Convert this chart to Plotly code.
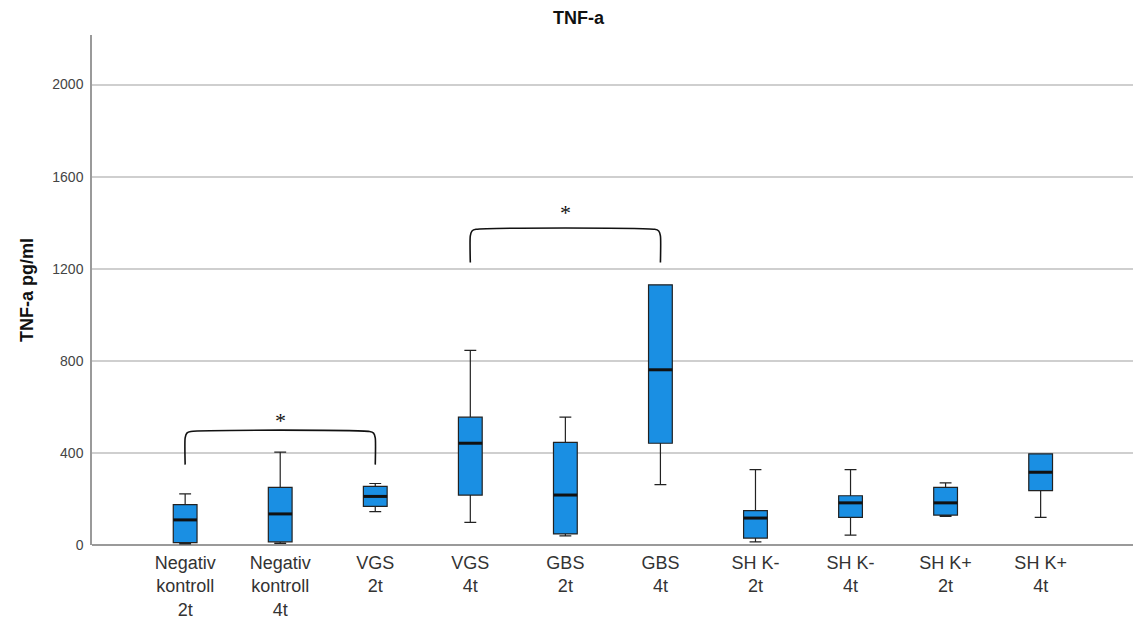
import plotly.graph_objects as go

categories = ["Negativ<br>kontroll<br>2t", "Negativ<br>kontroll<br>4t", "VGS<br>2t", "VGS<br>4t",
              "GBS<br>2t", "GBS<br>4t", "SH K-<br>2t", "SH K-<br>4t", "SH K+<br>2t", "SH K+<br>4t"]
lower_whisker = [5, 7, 145, 98, 40, 262, 14, 43, 124, 120]
q1_values = [10, 14, 168, 217, 48, 442, 30, 120, 130, 236]
median_values = [109, 135, 211, 442, 217, 761, 117, 183, 183, 316]
q3_values = [175, 250, 255, 555, 446, 1130, 149, 214, 250, 396]
upper_whisker = [222, 403, 267, 845, 555, 1130, 327, 327, 270, 396]

y_ticks = [0, 400, 800, 1200, 1600, 2000]

# significance brackets: (left group, right group, top level, leg end level)
brackets = [(0, 2, 493, 349), (3, 5, 1371, 1227)]
star_levels = [540, 1445]

xs = list(range(len(categories)))
box_w = 0.25

fig = go.Figure()
fig.add_trace(go.Box(
    x=xs, q1=q1_values, median=median_values, q3=q3_values,
    lowerfence=lower_whisker, upperfence=upper_whisker,
    width=box_w, whiskerwidth=0.5,
    fillcolor="#1a8fe3", line=dict(color="#222", width=1.2),
    boxpoints=False, showlegend=False, hoverinfo="skip",
))

# thicker median lines
mx, my = [], []
for i, m in enumerate(median_values):
    mx += [i - box_w / 2, i + box_w / 2, None]
    my += [m, m, None]
fig.add_trace(go.Scatter(x=mx, y=my, mode="lines", line=dict(color="#111", width=3),
                         showlegend=False, hoverinfo="skip"))

# brackets
for (a, b, top, end), s in zip(brackets, star_levels):
    r = 0.06
    dy = 28
    bx = [a, a, a + r * 0.3, a + r, b - r, b - r * 0.3, b, b]
    by = [end, top - dy, top - dy * 0.25, top, top, top - dy * 0.25, top - dy, end]
    fig.add_trace(go.Scatter(x=bx, y=by, mode="lines", line=dict(color="#111", width=1.6, shape="spline", smoothing=0.6),
                             showlegend=False, hoverinfo="skip"))
    fig.add_annotation(x=(a + b) / 2, y=s, text="*", showarrow=False,
                       font=dict(family="Liberation Serif", size=22, color="#111"))

fig.update_layout(
    width=1141, height=623,
    paper_bgcolor="white", plot_bgcolor="white",
    margin=dict(l=84, r=0, t=27, b=86, autoexpand=False),
    title=dict(text="<b>TNF-a</b>", x=0.5, xanchor="center", y=0.984, yanchor="middle",
               font=dict(family="Liberation Sans", size=18, color="#111"), automargin=False),
    font=dict(family="Liberation Sans", color="#333"),
)
fig.update_xaxes(
    range=[-0.98, 10.14], tickvals=xs, ticktext=categories, showgrid=False, zeroline=False,
    showline=False, ticks="", tickfont=dict(size=18, color="#333"), automargin=False,
    ticklabelstandoff=5,
)
fig.update_yaxes(
    range=[0, 2215], tickvals=y_ticks, ticktext=[str(v) for v in y_ticks],
    showgrid=True, gridcolor="#cfcfcf", gridwidth=1.5,
    zeroline=True, zerolinecolor="#9a9a9a", zerolinewidth=1.5,
    showline=True, linecolor="#9a9a9a", linewidth=1.5, ticks="",
    tickfont=dict(size=14, color="#444"), ticklabelstandoff=4, automargin=False,
    title=dict(text="<b>TNF-a pg/ml</b>", font=dict(size=18, color="#111"), standoff=14),
)

fig.write_html("out.html")
